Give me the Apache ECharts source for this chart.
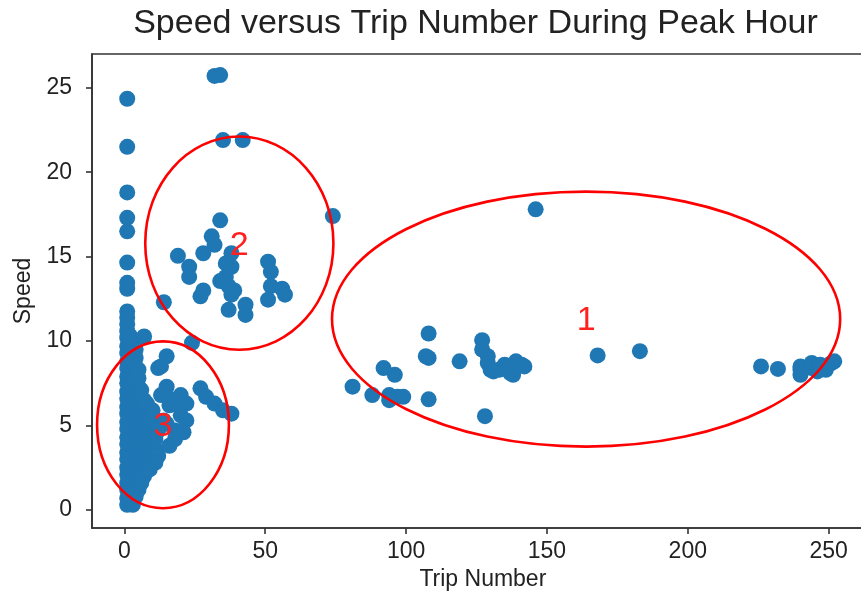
<!DOCTYPE html>
<html>
<head>
<meta charset="utf-8">
<title>Speed versus Trip Number During Peak Hour</title>
<script src="https://cdn.jsdelivr.net/npm/echarts@6/dist/echarts.min.js"></script>
<style>
  html, body { margin: 0; padding: 0; background: #fff; }
  #chart { width: 861px; height: 599px; }
</style>
</head>
<body>
<div id="chart"></div>
<script>
// Low trip numbers: speeds observed for each trip count 1..11 (dense column)
const columnTrips = [1, 2, 3, 4, 5, 6, 7, 8, 9, 10, 11];
const columnSpeeds = [
  [0.3, 0.7, 1.2, 1.6, 2.1, 2.5, 3.0, 3.4, 3.9, 4.3, 4.8, 5.2, 5.7, 6.1, 6.6, 7.0, 7.5, 7.9, 8.4, 8.8, 9.3, 9.7, 10.2, 10.6, 11.0, 11.4, 11.75, 13.1, 13.45, 14.65, 16.5, 17.3, 18.8, 21.5, 24.35],
  [0.4, 0.9, 1.4, 1.9, 2.4, 2.9, 3.4, 3.9, 4.4, 4.9, 5.4, 5.9, 6.4, 6.9, 7.4, 7.9, 8.4, 8.9, 9.4, 9.9, 10.3],
  [0.3, 0.8, 1.3, 1.8, 2.3, 2.8, 3.3, 3.8, 4.3, 4.8, 5.3, 5.8, 6.3, 6.8, 7.3, 7.8, 8.3, 8.8, 9.3, 9.8],
  [0.8, 1.3, 1.9, 2.4, 3.0, 3.5, 4.1, 4.6, 5.2, 5.7, 6.3, 6.8, 7.4, 7.9, 8.5, 9.0, 9.5],
  [1.2, 1.8, 2.3, 2.9, 3.4, 4.0, 4.5, 5.1, 5.6, 6.2, 6.7, 7.3, 7.8, 8.3],
  [1.6, 2.2, 2.7, 3.3, 3.8, 4.4, 4.9, 5.5, 6.0, 6.6, 7.1],
  [2.0, 2.6, 3.1, 3.7, 4.2, 4.8, 5.3, 5.9, 6.5],
  [2.4, 3.0, 3.5, 4.1, 4.6, 5.2, 5.8, 6.3],
  [2.8, 3.4, 3.9, 4.5, 5.0, 5.6],
  [3.2, 3.8, 4.4, 5.0, 5.5],
  [3.6, 4.2, 4.9]
];

// Low-trip spread to the right of the column (region 3)
const lowTripPoints = [
  [7, 10.27], [15, 9.1], [13, 8.5], [12, 8.4], [15, 7.3], [20, 6.8], [22, 6.3], [19, 6.3],
  [16, 6.6], [27, 7.2], [29, 6.7], [32, 6.3], [35, 5.9], [38, 5.7], [18, 4.7], [15, 5.1],
  [16, 3.8], [12, 3.2], [13, 6.8], [16, 6.2], [20, 5.6], [22, 5.3], [21, 4.6], [18, 4.2],
  [11, 2.8], [9, 2.4], [14, 5.3], [12, 4.7], [10, 5.9], [24, 9.9], [14, 12.3]
];

// Medium trip numbers with high speeds (region 2 and nearby)
const midTripPoints = [
  [32, 25.7], [34, 25.75], [35, 21.9], [42, 21.9], [34, 17.15], [31, 16.2], [32, 15.7],
  [28, 15.2], [19, 15.05], [23, 14.4], [23, 13.8], [38, 15.2], [38, 14.4], [36, 13.8],
  [34, 13.55], [37, 13.25], [39, 13.0], [38, 12.75], [28, 13.0], [27, 12.65], [37, 11.85],
  [43, 12.15], [43, 11.55], [51, 14.7], [52, 14.1], [52, 13.25], [56, 13.1], [57, 12.75],
  [51, 12.45], [36, 14.6], [35, 13.6], [74, 17.4]
];

// High trip numbers (region 1)
const highTripPoints = [
  [146, 17.8], [108, 10.45], [108, 9.0], [107, 9.1], [119, 8.8], [127, 10.05], [127, 9.5],
  [129, 9.1], [129, 8.7], [130, 8.3], [131, 8.2], [133, 8.3], [135, 8.6], [136, 8.3],
  [137, 8.1], [138, 8.0], [139, 8.8], [141, 8.6], [142, 8.5], [168, 9.15], [183, 9.4],
  [226, 8.5], [232, 8.35], [240, 8.3], [240, 8.5], [240, 8.0], [244, 8.7], [244, 8.4],
  [246, 8.2], [247, 8.6], [249, 8.3], [249, 8.5], [251, 8.7], [252, 8.8], [92, 8.4],
  [96, 8.0], [81, 7.3], [88, 6.8], [94, 6.8], [95, 6.7], [97, 6.7], [99, 6.7], [94, 6.5],
  [108, 6.55], [128, 5.55]
];

// Axis ticks
const xTicks = [0, 50, 100, 150, 200, 250];
const yTicks = [0, 5, 10, 15, 20, 25];

// Highlighted groups: label, centre (trip, speed), half-width in trips, half-height in speed
const regionLabels = ['1', '2', '3'];
const regionCenters = [[163.9, 11.3], [40.8, 15.8], [13.7, 5.04]];
const regionRadii = [[90.2, 7.55], [33.4, 6.31], [23.4, 4.94]];

const scatterData = [];
columnTrips.forEach(function (t, i) {
  columnSpeeds[i].forEach(function (s) { scatterData.push([t, s]); });
});
[lowTripPoints, midTripPoints, highTripPoints].forEach(function (group) {
  group.forEach(function (p) { scatterData.push(p); });
});

const regionData = regionLabels.map(function (lab, i) {
  return [regionCenters[i][0], regionCenters[i][1], regionRadii[i][0], regionRadii[i][1], lab];
});

const FONT = '"Liberation Sans", Arial, sans-serif';
const axisColor = '#333';

const chart = echarts.init(document.getElementById('chart'), null, { renderer: 'canvas' });

chart.setOption({
  animation: false,
  backgroundColor: '#fff',
  graphic: [{
    type: 'text',
    style: {
      text: 'Speed versus Trip Number During Peak Hour',
      x: 475.5, y: 24,
      textAlign: 'center', textVerticalAlign: 'middle',
      font: '34px ' + FONT,
      fill: '#222'
    }
  }],
  grid: {
    show: true,
    outerBoundsMode: 'none',
    containLabel: false,
    left: 92, top: 54, width: 781.7, height: 474,
    borderColor: axisColor, borderWidth: 1.6,
    backgroundColor: 'transparent'
  },
  xAxis: {
    type: 'value',
    min: -11.5, max: 266,
    name: 'Trip Number',
    nameLocation: 'middle',
    nameGap: 40,
    nameTextStyle: { fontSize: 23, fontFamily: FONT, color: '#222' },
    axisLine: { show: true, onZero: false, lineStyle: { color: axisColor, width: 1.6 } },
    axisTick: { show: true, length: 6, customValues: xTicks, lineStyle: { color: axisColor, width: 1.6 } },
    axisLabel: { customValues: xTicks, fontSize: 23, fontFamily: FONT, color: '#222', margin: 12 },
    splitLine: { show: false }
  },
  yAxis: {
    type: 'value',
    min: -1.07, max: 27.0,
    name: 'Speed',
    nameLocation: 'middle',
    nameRotate: 90,
    nameGap: 56,
    nameTextStyle: { fontSize: 23, fontFamily: FONT, color: '#222' },
    axisLine: { show: true, onZero: false, lineStyle: { color: axisColor, width: 1.6 } },
    axisTick: { show: true, length: 6, customValues: yTicks, lineStyle: { color: axisColor, width: 1.6 } },
    axisLabel: { customValues: yTicks, fontSize: 23, fontFamily: FONT, color: '#222', margin: 20 },
    splitLine: { show: false }
  },
  series: [
    {
      type: 'scatter',
      data: scatterData,
      symbol: 'circle',
      symbolSize: 16,
      itemStyle: { color: '#1f77b4', opacity: 1 },
      emphasis: { disabled: true },
      z: 2
    },
    {
      type: 'custom',
      data: regionData,
      encode: { x: 0, y: 1 },
      z: 5,
      silent: true,
      renderItem: function (params, api) {
        const c = api.coord([api.value(0), api.value(1)]);
        const s = api.size([api.value(2), api.value(3)]);
        return {
          type: 'group',
          children: [
            {
              type: 'ellipse',
              shape: { cx: c[0], cy: c[1], rx: s[0], ry: s[1] },
              style: { fill: 'none', stroke: '#ff0000', lineWidth: 2.6 }
            },
            {
              type: 'text',
              style: {
                text: api.value(4),
                x: c[0], y: c[1] + 2,
                textAlign: 'center', textVerticalAlign: 'middle',
                font: '34px ' + FONT,
                fill: '#ff2020'
              }
            }
          ]
        };
      }
    }
  ]
});
</script>
</body>
</html>
